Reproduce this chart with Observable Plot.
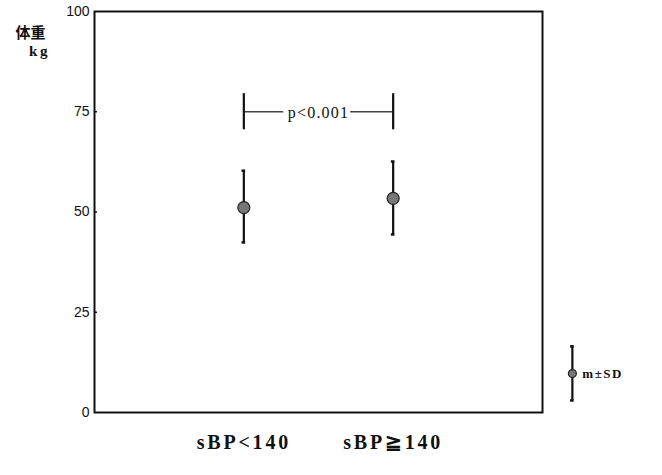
<!DOCTYPE html>
<html>
<head>
<meta charset="utf-8">
<script src="https://cdn.jsdelivr.net/npm/d3@7"></script>
<script src="https://cdn.jsdelivr.net/npm/@observablehq/plot@0.6"></script>
<style>
  body { margin: 0; background: #fff; }
  #chart { position: relative; width: 662px; height: 475px; }
</style>
</head>
<body>
<div id="chart"></div>
<script>
const groups = ["sBP<140", "sBP≧140"];
const groupPos = [1, 2];
const means = [51.1, 53.4];
const upper = [60.3, 62.6];
const lower = [42.4, 44.4];
const yTicks = [0, 25, 50, 75, 100];
const yTitle = ["体重", "kg"];
const pLabel = "p<0.001";
const pLevel = 75;
const legendLabel = "m±SD";
const legendPos = 3.2;
const legendMean = 9.7, legendUpper = 16.5, legendLower = 3.0;

const data = groups.map((g, i) => ({g, x: groupPos[i], m: means[i], hi: upper[i], lo: lower[i]}));
const legend = [{x: legendPos, m: legendMean, hi: legendUpper, lo: legendLower}];
const all = data.concat(legend);
const capW = 0.012;
const serif = "Liberation Serif, DejaVu Serif, serif";

const plot = Plot.plot({
  width: 662,
  height: 475,
  marginLeft: 94,
  marginRight: 120,
  marginTop: 11,
  marginBottom: 63,
  style: {fontFamily: "Liberation Sans, Arial, sans-serif", background: "white"},
  x: {domain: [0, 3], axis: null},
  y: {domain: [0, 100], axis: null},
  marks: [
    Plot.frame({stroke: "#111", strokeWidth: 2}),
    // y axis tick labels and inward ticks
    Plot.text(yTicks, {x: 0, y: d => d, text: d => String(d), textAnchor: "end", dx: -5, fontSize: 14, fill: "#111"}),
    Plot.ruleY(yTicks.filter(d => d > 0 && d < 100), {x1: 0, x2: 0.02, y: d => d, stroke: "#111", strokeWidth: 1.5}),
    // y title
    Plot.text([yTitle[0]], {x: 0, y: 100, dx: -64, dy: 22, text: d => d, fontSize: 15, fontWeight: "bold", fill: "#111", fontFamily: "Noto Sans CJK JP, sans-serif"}),
    Plot.text([yTitle[1]], {x: 0, y: 100, dx: -55, dy: 40, text: d => d, fontSize: 15, fontWeight: "bold", fill: "#111", fontFamily: serif}),
    // category labels
    Plot.text(data, {x: "x", y: 0, dy: 30, text: "g", fontSize: 20, fontWeight: "bold", fontFamily: serif, fill: "#111", textAnchor: "middle"}),
    // error bars
    Plot.ruleX(all, {x: "x", y1: "lo", y2: "hi", stroke: "#111", strokeWidth: 2.2}),
    Plot.ruleY(all, {x1: d => d.x - capW, x2: d => d.x + capW, y: "hi", stroke: "#111", strokeWidth: 2.5}),
    Plot.ruleY(all, {x1: d => d.x - capW, x2: d => d.x + capW, y: "lo", stroke: "#111", strokeWidth: 2.5}),
    Plot.dot(data, {x: "x", y: "m", r: 6, fill: "#777", stroke: "#222", strokeWidth: 1.2}),
    Plot.dot(legend, {x: "x", y: "m", r: 4, fill: "#777", stroke: "#222", strokeWidth: 1.2}),
    Plot.text(legend, {x: "x", y: "m", dx: 10, text: () => legendLabel, textAnchor: "start", fontSize: 13, fontWeight: "bold", fontFamily: serif, fill: "#111"}),
    // significance bracket
    Plot.ruleY([pLevel], {x1: groupPos[0], x2: groupPos[1], stroke: "#444", strokeWidth: 1.5}),
    Plot.ruleX(groupPos, {x: d => d, y1: pLevel - 4.5, y2: pLevel + 4.5, stroke: "#111", strokeWidth: 2.2}),
    Plot.text([pLabel], {x: (groupPos[0] + groupPos[1]) / 2, y: pLevel, dy: 1, text: d => d, fontSize: 16, fontFamily: serif, fill: "#111", stroke: "white", strokeWidth: 10, strokeLinejoin: "round", paintOrder: "stroke"})
  ]
});
// letter spacing (not a Plot option): apply to specific labels after render
const spacing = new Map([[groups[0], 2.8], [groups[1], 2.8], [pLabel, 1.2], [legendLabel, 1.5], [yTitle[1], 2.5]]);
d3.select(plot).selectAll("text").each(function() {
  const s = spacing.get(this.textContent);
  if (s != null) this.setAttribute("letter-spacing", s);
});
document.getElementById("chart").appendChild(plot);
</script>
</body>
</html>
